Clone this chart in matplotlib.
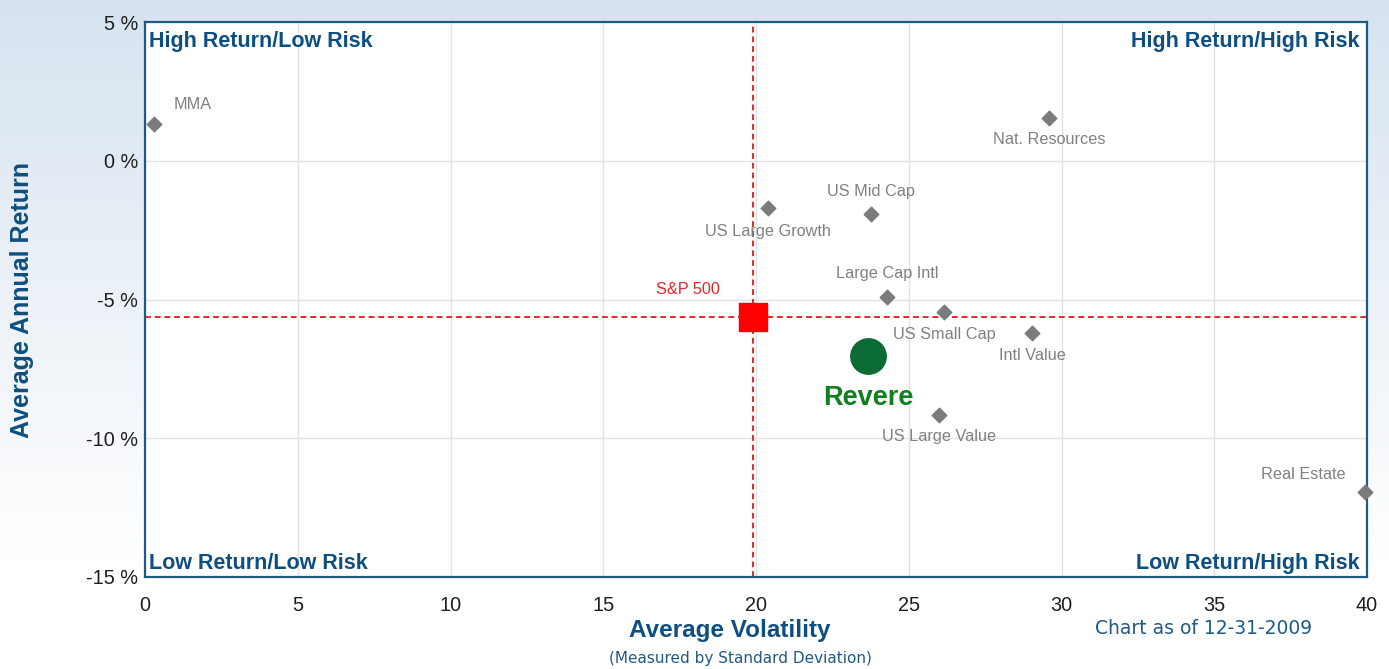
import numpy as np
import matplotlib.pyplot as plt

plt.rcParams['font.family'] = ['Liberation Sans', 'DejaVu Sans']

# asset classes: volatility (std dev) and average annual return (%)
names = ['MMA', 'Nat. Resources', 'US Large Growth', 'US Mid Cap', 'Large Cap Intl',
         'US Small Cap', 'Intl Value', 'US Large Value', 'Real Estate']
vol = [0.3, 29.6, 20.4, 23.75, 24.3, 26.15, 29.05, 26.0, 39.95]
ret = [1.32, 1.55, -1.7, -1.92, -4.91, -5.45, -6.2, -9.15, -11.95]
# label offsets in points (dx, dy)
offsets = [(14, 14), (0, -16), (0, -17), (0, 16), (0, 17), (0, -16), (0, -16), (0, -16), (-45, 13)]

sp_name, sp_vol, sp_ret = 'S&P 500', 19.9, -5.63
rev_name, rev_vol, rev_ret = 'Revere', 23.67, -7.04

xticks = [0, 5, 10, 15, 20, 25, 30, 35, 40]
yticks = [5, 0, -5, -10, -15]

fig = plt.figure(figsize=(13.89, 6.69), dpi=100)

# light blue background fading to white
bg = fig.add_axes([0, 0, 1, 1], zorder=-1)
grad = np.linspace(0, 1, 256).reshape(-1, 1)
top = np.array([0.84, 0.89, 0.94])
bot = np.array([1.0, 1.0, 1.0])
img = top + (bot - top) * np.clip(grad * 1.2, 0, 1)[:, :, None]
bg.imshow(img, aspect='auto', extent=[0, 1, 0, 1])
bg.axis('off')

ax = fig.add_axes([145/1389, 1-577/669, 1222/1389, 555/669])
ax.set_facecolor('white')
for s in ax.spines.values():
    s.set_color('#1f5a85')
    s.set_linewidth(1.6)

ax.set_xlim(0, 40)
ax.set_ylim(-15, 5)
ax.set_xticks(xticks)
ax.set_yticks(yticks)
ax.set_yticklabels([f'{t} %' for t in yticks])
ax.tick_params(length=0, labelsize=14.3, colors='#1e1e1e')
ax.tick_params(axis='y', pad=5)
ax.tick_params(axis='x', pad=14)
ax.grid(True, color='#e2e2e2', lw=1)
ax.set_axisbelow(True)

# benchmark cross lines
ax.axvline(sp_vol, color='#e8262a', ls='--', lw=1.4, dashes=(3, 2), zorder=2)
ax.axhline(sp_ret, color='#e8262a', ls='--', lw=1.4, dashes=(3, 2), zorder=2)

ax.scatter(vol, ret, marker='D', s=55, color='#7b7b7b', zorder=3, clip_on=False)
for n, x, y, (dx, dy) in zip(names, vol, ret, offsets):
    ax.annotate(n, (x, y), xytext=(dx, dy), textcoords='offset points',
                ha='center' if dx <= 0 else 'left', va='center',
                fontsize=11.7, color='#808080')

ax.scatter([sp_vol], [sp_ret], marker='s', s=420, color='#ff0000', zorder=4)
ax.annotate(sp_name, (sp_vol, sp_ret), xytext=(-47, 20), textcoords='offset points',
            ha='center', va='center', fontsize=11.7, color='#e8262a')

ax.scatter([rev_vol], [rev_ret], marker='o', s=650, color='#0b6b35', zorder=4)
ax.annotate(rev_name, (rev_vol, rev_ret), xytext=(0, -30), textcoords='offset points',
            ha='center', va='center', fontsize=19.5, color='#0f7f1f', fontweight='bold')

qc = '#0d4f80'
ax.text(0.003, 0.983, 'High Return/Low Risk', transform=ax.transAxes, ha='left', va='top',
        fontsize=15.5, fontweight='bold', color=qc)
ax.text(0.994, 0.983, 'High Return/High Risk', transform=ax.transAxes, ha='right', va='top',
        fontsize=15.5, fontweight='bold', color=qc)
ax.text(0.003, 0.005, 'Low Return/Low Risk', transform=ax.transAxes, ha='left', va='bottom',
        fontsize=15.5, fontweight='bold', color=qc)
ax.text(0.994, 0.005, 'Low Return/High Risk', transform=ax.transAxes, ha='right', va='bottom',
        fontsize=15.5, fontweight='bold', color=qc)

fig.text(730/1389, 1-631/669, 'Average Volatility', ha='center', va='center',
         fontsize=17.5, fontweight='bold', color=qc)
fig.text(740/1389, 1-659/669, '(Measured by Standard Deviation)', ha='center', va='center',
         fontsize=11, color='#1f5a85', family=['DejaVu Sans'])
fig.text(1204/1389, 1-629/669, 'Chart as of 12-31-2009', ha='center', va='center',
         fontsize=13.5, color='#1f5a85', family=['DejaVu Sans'])
fig.text(22/1389, 1-300/669, 'Average Annual Return', ha='center', va='center', rotation=90,
         fontsize=18, fontweight='bold', color=qc)

fig.savefig('out.png', dpi=100)
